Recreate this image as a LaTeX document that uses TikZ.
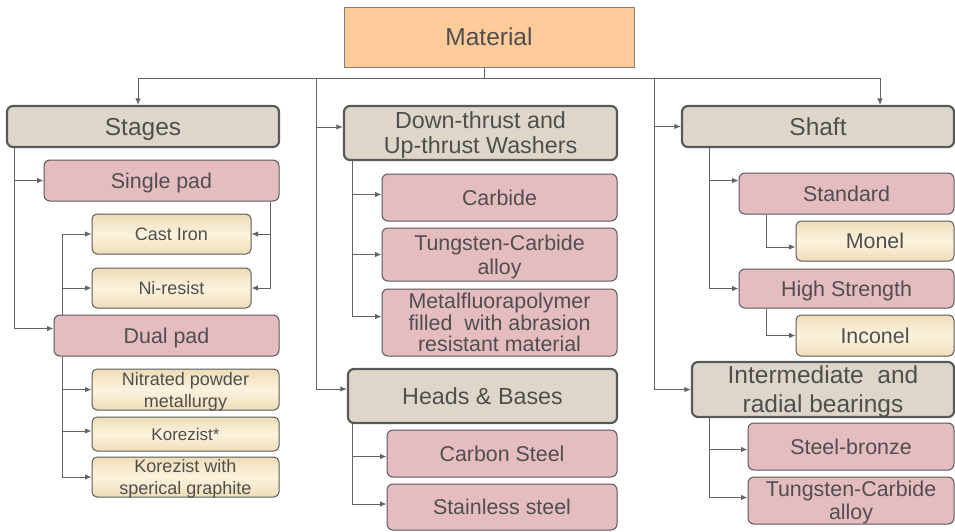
\documentclass[tikz,border=0pt]{standalone}
\usepackage{fontspec}
\setmainfont{Liberation Sans}
\usetikzlibrary{arrows.meta}

\definecolor{txt}{HTML}{4F4F4F}
\definecolor{edge}{HTML}{595959}
\definecolor{wire}{HTML}{646464}
\definecolor{orangefill}{HTML}{FFCC99}
\definecolor{rootedge}{HTML}{808080}
\definecolor{stone}{HTML}{DED6C8}
\definecolor{rose}{HTML}{E5BCC0}
\definecolor{creamedge}{HTML}{EEDDB8}
\definecolor{creammid}{HTML}{FCF3DE}

\tikzset{
  box/.style={draw=edge, text=txt, align=center, inner sep=0pt, text depth=0pt},
  rootbox/.style={box, fill=orangefill, draw=rootedge, line width=0.9pt,
    font=\fontsize{24.5}{28}\selectfont},
  headbox/.style={box, fill=stone, line width=2.2pt, rounded corners=6pt,
    font=\fontsize{24.5}{29}\selectfont},
  headboxb/.style={headbox, font=\fontsize{23.3}{25}\selectfont},
  subbox/.style={box, fill=rose, line width=1pt, rounded corners=6pt,
    font=\fontsize{21.4}{24}\selectfont},
  leafbox/.style={box, top color=creamedge, bottom color=creamedge,
    middle color=creammid, line width=1pt, rounded corners=5pt,
    font=\fontsize{18}{22}\selectfont},
  leafboxb/.style={leafbox, font=\fontsize{21.4}{24}\selectfont},
  link/.style={draw=wire, line width=1pt, -{Latex[length=6.5pt,width=5.5pt]}},
  wireonly/.style={draw=wire, line width=1pt},
}

\begin{document}
\begin{tikzpicture}[x=1pt, y=-1pt]
  \fill[white] (0,0) rectangle (955,531);
  \useasboundingbox (0,0) rectangle (955,531);

  % root
  \node[rootbox, minimum width=290pt, minimum height=60pt] (material) at (489,37) {Material};

  % left branch: stages
  \node[headbox, minimum width=272pt, minimum height=41pt] (stages) at (143,126.5) {Stages};
  \node[subbox, minimum width=235pt, minimum height=41pt] (single) at (161.5,180.5) {Single pad};
  \node[leafbox, minimum width=159pt, minimum height=40pt] (castiron) at (171.5,234) {Cast Iron};
  \node[leafbox, minimum width=159pt, minimum height=40pt] (niresist) at (171.5,288) {Ni-resist};
  \node[subbox, minimum width=225pt, minimum height=41pt] (dual) at (166.5,335.5) {Dual pad};
  \node[leafbox, minimum width=187pt, minimum height=41pt] (nitrated) at (185.5,389.5) {Nitrated powder\\metallurgy};
  \node[leafbox, minimum width=187pt, minimum height=34pt, font=\fontsize{17}{20}\selectfont] (korezist) at (185.5,434) {Korezist*};
  \node[leafbox, minimum width=187pt, minimum height=40pt] (korezistg) at (185.5,477) {Korezist with\\sperical graphite};

  % middle branch: washers, heads and bases
  \node[headboxb, minimum width=273pt, minimum height=54pt] (washers) at (480.5,133) {Down-thrust and\\Up-thrust Washers};
  \node[subbox, minimum width=235pt, minimum height=47pt] (carbide) at (499.5,197.5) {Carbide};
  \node[subbox, minimum width=235pt, minimum height=53pt] (tungstenA) at (499.5,254.5) {Tungsten-Carbide\\alloy};
  \node[subbox, minimum width=235pt, minimum height=67pt, font=\fontsize{21.4}{21.7}\selectfont] (metal) at (499.5,322.5) {Metalfluorapolymer\\filled~ with abrasion\\resistant material};
  \node[headboxb, minimum width=269pt, minimum height=54pt] (heads) at (482.5,396) {Heads \& Bases};
  \node[subbox, minimum width=230pt, minimum height=47pt] (carbon) at (502,453.5) {Carbon Steel};
  \node[subbox, minimum width=230pt, minimum height=46pt] (stainless) at (502,507) {Stainless steel};

  % right branch: shaft, bearings
  \node[headbox, minimum width=272pt, minimum height=41pt] (shaft) at (818,126.5) {Shaft};
  \node[subbox, minimum width=215pt, minimum height=41pt] (standard) at (846.5,193.5) {Standard};
  \node[leafboxb, minimum width=158pt, minimum height=40pt] (monel) at (875,241) {Monel};
  \node[subbox, minimum width=215pt, minimum height=39pt] (highstr) at (846.5,288.5) {High Strength};
  \node[leafboxb, minimum width=158pt, minimum height=41pt] (inconel) at (875,335.5) {Inconel};
  \node[headbox, minimum width=262pt, minimum height=55pt] (inter) at (823,389.5) {Intermediate~ and\\radial bearings};
  \node[subbox, minimum width=206pt, minimum height=47pt] (steelbronze) at (851,446.5) {Steel-bronze};
  \node[subbox, minimum width=206pt, minimum height=47pt, font=\fontsize{21.4}{23}\selectfont] (tungstenB) at (851,500.5) {Tungsten-Carbide\\alloy};

  % distribution bus under the root
  \coordinate (bus) at (484,78);
  \coordinate (midtrunk) at (316,78);
  \coordinate (righttrunk) at (654,78);
  \draw[wireonly] (material.south -| bus) -- (bus);
  \draw[wireonly] (midtrunk) -- (righttrunk);
  \draw[link] (bus) -| ([xshift=-5pt]stages.north);
  \draw[link] (bus) -| ([xshift=62pt]shaft.north);
  \draw[link] (midtrunk) |- ([yshift=6pt]washers.west);
  \draw[link] (midtrunk) |- ([yshift=7pt]heads.west);
  \draw[link] (righttrunk) |- (shaft.west);
  \draw[link] (righttrunk) |- (inter.west);

  % stages
  \draw[link] ([xshift=9pt]stages.south west) |- (single.west);
  \draw[link] ([xshift=9pt]stages.south west) |- ([yshift=7pt]dual.west);
  \draw[link] ([xshift=-9pt]single.south east) |- (castiron.east);
  \draw[link] ([xshift=-9pt]single.south east) |- (niresist.east);
  \draw[link] ([xshift=9pt]dual.north west) |- (castiron.west);
  \draw[link] ([xshift=9pt]dual.north west) |- (niresist.west);
  \draw[link] ([xshift=9pt]dual.south west) |- (nitrated.west);
  \draw[link] ([xshift=9pt]dual.south west) |- ([yshift=3pt]korezist.west);
  \draw[link] ([xshift=9pt]dual.south west) |- (korezistg.west);

  % washers
  \draw[link] ([xshift=10pt]washers.south west) |- ([yshift=3pt]carbide.west);
  \draw[link] ([xshift=10pt]washers.south west) |- (tungstenA.west);
  \draw[link] ([xshift=10pt]washers.south west) |- ([yshift=6pt]metal.west);

  % heads and bases
  \draw[link] ([xshift=6pt]heads.south west) |- ([yshift=-3pt]carbon.west);
  \draw[link] ([xshift=6pt]heads.south west) |- ([yshift=3pt]stainless.west);

  % shaft
  \draw[link] ([xshift=29pt]shaft.south west) |- ([yshift=13pt]standard.west);
  \draw[link] ([xshift=29pt]shaft.south west) |- (highstr.west);
  \draw[link] ([xshift=28pt]standard.south west) |- ([yshift=-6pt]monel.west);
  \draw[link] ([xshift=28pt]highstr.south west) |- (inconel.west);

  % bearings
  \draw[link] ([xshift=19pt]inter.south west) |- ([yshift=-3pt]steelbronze.west);
  \draw[link] ([xshift=19pt]inter.south west) |- ([yshift=3pt]tungstenB.west);
\end{tikzpicture}
\end{document}
